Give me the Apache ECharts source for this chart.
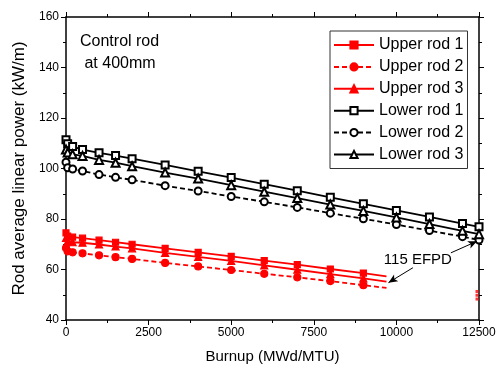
<!DOCTYPE html>
<html>
<head>
<meta charset="utf-8">
<script src="https://cdn.jsdelivr.net/npm/echarts@6/dist/echarts.min.js"></script>
<style>html,body{margin:0;padding:0;background:#fff}#c{width:499px;height:369px}</style>
</head>
<body>
<div id="c"></div>
<script>
// ---- data ----
var burnupLower = [0, 50, 200, 500, 1000, 1500, 2000, 3000, 4000, 5000, 6000, 7000, 8000, 9000, 10000, 11000, 12000, 12500];
var lowerRod1 = [111.4, 109.8, 108.7, 107.5, 106.2, 105.1, 103.9, 101.4, 98.9, 96.4, 93.8, 91.2, 88.6, 86.0, 83.4, 80.8, 78.2, 76.9];
var lowerRod2 = [102.5, 100.3, 99.8, 99.0, 97.6, 96.5, 95.5, 93.2, 91.1, 88.9, 86.8, 84.6, 82.3, 80.1, 77.8, 75.4, 73.0, 71.7];
var lowerRod3 = [107.5, 106.3, 105.6, 105.0, 103.4, 102.3, 100.9, 98.4, 96.0, 93.4, 90.8, 88.3, 85.7, 83.2, 80.6, 78.0, 75.3, 74.0];

var burnupUpper = [0, 50, 200, 500, 1000, 1500, 2000, 3000, 4000, 5000, 6000, 7000, 8000, 9000, 9700];
var upperRod1 = [74.5, 73.2, 72.8, 72.4, 71.6, 70.8, 70.0, 68.4, 66.8, 65.2, 63.5, 61.9, 60.2, 58.6, 57.3];
var upperRod2 = [68.5, 67.2, 66.8, 66.4, 65.6, 64.9, 64.2, 62.6, 61.2, 59.8, 58.3, 56.9, 55.4, 53.8, 52.7];
var upperRod3 = [72.5, 71.2, 70.8, 70.6, 69.9, 69.1, 68.4, 66.6, 65.0, 63.4, 61.6, 59.9, 58.2, 56.5, 55.2];
var upperEndBurnup = 12500;
var upperEnd = [51.3, 48.3, 49.8]; // rod1, rod2, rod3 at end of cycle
var endMarkerBurnup = 9700;   // 115 EFPD, line end without marker

var xTicks = [0, 2500, 5000, 7500, 10000, 12500];
var yTicks = [40, 60, 80, 100, 120, 140, 160];

var seriesNames = ['Upper rod 1', 'Upper rod 2', 'Upper rod 3', 'Lower rod 1', 'Lower rod 2', 'Lower rod 3'];
var noteText = '115 EFPD';
var controlText = 'Control rod\n at 400mm';

// ---- build ----
function pairs(xs, ys) {
  return xs.map(function (x, i) {
    var item = { value: [x, ys[i]] };
    if (x === endMarkerBurnup) item.symbol = 'none';
    return item;
  });
}
var FONT = 'Liberation Sans';
var RED = '#ff0000';
var BLK = '#000000';

function mkSeries(name, xs, ys, color, symbol, dashed, size) {
  return {
    name: name, type: 'line', data: pairs(xs, ys),
    symbol: symbol, symbolSize: size, showAllSymbol: true,
    clip: false,
    lineStyle: { color: color, width: 1.8, type: dashed ? [5, 3] : 'solid' },
    itemStyle: { color: color, borderColor: color, borderWidth: 1.2 },
    emphasis: { disabled: true }, animation: false, z: 3
  };
}

var series = [
  mkSeries(seriesNames[0], burnupUpper, upperRod1, RED, 'rect', false, 6),
  mkSeries(seriesNames[1], burnupUpper, upperRod2, RED, 'circle', true, 7),
  mkSeries(seriesNames[2], burnupUpper, upperRod3, RED, 'triangle', false, 7),
  mkSeries(seriesNames[3], burnupLower, lowerRod1, BLK, 'emptyRect', false, 7),
  mkSeries(seriesNames[4], burnupLower, lowerRod2, BLK, 'emptyCircle', true, 7),
  mkSeries(seriesNames[5], burnupLower, lowerRod3, BLK, 'emptyTriangle', false, 8)
];
// half markers at the right border for the upper rods
series.push({
  name: 'upperEnd', type: 'scatter',
  data: upperEnd.map(function (v) { return [upperEndBurnup, v]; }),
  symbol: 'rect', symbolSize: [3, 3], symbolOffset: [-2, 0],
  itemStyle: { color: RED }, emphasis: { disabled: true }, animation: false, z: 2
});
// annotation arrows (data coordinates)
series[0].markLine = {
  silent: true, animation: false,
  symbol: ['none', 'arrow'], symbolSize: [6, 9],
  label: { show: false },
  lineStyle: { color: BLK, width: 1, type: 'solid' },
  data: [
    [{ coord: [11650, 66.6] }, { coord: [12440, 71.2] }],
    [{ coord: [10500, 60.7] }, { coord: [9760, 54.8] }]
  ]
};
series[0].markPoint = {
  silent: true, animation: false,
  symbol: 'circle', symbolSize: 0,
  label: { show: true, position: 'inside', formatter: noteText, color: '#000', fontFamily: FONT, fontSize: 15 },
  data: [{ coord: [10650, 64] }]
};

var axisCommon = {
  axisLine: { show: true, onZero: false, lineStyle: { color: '#000', width: 1.5 } },
  axisTick: { show: true, inside: false, length: 5, lineStyle: { color: '#000', width: 1 } },
  minorTick: { show: true, splitNumber: 2, length: 3, lineStyle: { color: '#000', width: 1 } },
  splitLine: { show: false }
};
function plainNum(v) { return String(v); }

var option = {
  animation: false,
  backgroundColor: '#fff',
  grid: { left: 66, right: 20, top: 17, bottom: 45 },
  xAxis: [
    Object.assign({}, axisCommon, {
      type: 'value', min: xTicks[0], max: xTicks[xTicks.length - 1], interval: xTicks[1] - xTicks[0],
      name: 'Burnup (MWd/MTU)', nameLocation: 'middle', nameGap: 29,
      nameTextStyle: { fontFamily: FONT, fontSize: 15, color: '#000' },
      axisLabel: { fontFamily: FONT, fontSize: 12, color: '#000', margin: 7, formatter: plainNum }
    }),
    Object.assign({}, axisCommon, {
      type: 'value', position: 'top', min: xTicks[0], max: xTicks[xTicks.length - 1], interval: xTicks[1] - xTicks[0],
      axisLabel: { show: false }
    })
  ],
  yAxis: [
    Object.assign({}, axisCommon, {
      type: 'value', min: yTicks[0], max: yTicks[yTicks.length - 1], interval: yTicks[1] - yTicks[0],
      name: 'Rod average linear power (kW/m)', nameLocation: 'middle', nameGap: 38,
      nameTextStyle: { fontFamily: FONT, fontSize: 17, color: '#000' },
      axisLabel: { fontFamily: FONT, fontSize: 12, color: '#000', margin: 7, formatter: plainNum }
    }),
    Object.assign({}, axisCommon, {
      type: 'value', position: 'right', min: yTicks[0], max: yTicks[yTicks.length - 1], interval: yTicks[1] - yTicks[0],
      axisLabel: { show: false }
    })
  ],
  legend: {
    show: true, orient: 'vertical', left: 330, top: 31,
    data: seriesNames,
    itemWidth: 40, itemHeight: 9, itemGap: 5.9,
    padding: [6, 4, 6, 3],
    borderColor: '#333', borderWidth: 1, backgroundColor: '#fff',
    textStyle: { fontFamily: FONT, fontSize: 16, color: '#000', lineHeight: 16 },
    selectedMode: false
  },
  graphic: [{
    type: 'text', left: 80, top: 31,
    style: { text: controlText, fontFamily: FONT, fontSize: 16, fill: '#000', lineHeight: 22, textAlign: 'left' }
  }],
  series: series
};

var chart = echarts.init(document.getElementById('c'), null, { renderer: 'canvas' });
chart.setOption(option);
</script>
</body>
</html>
